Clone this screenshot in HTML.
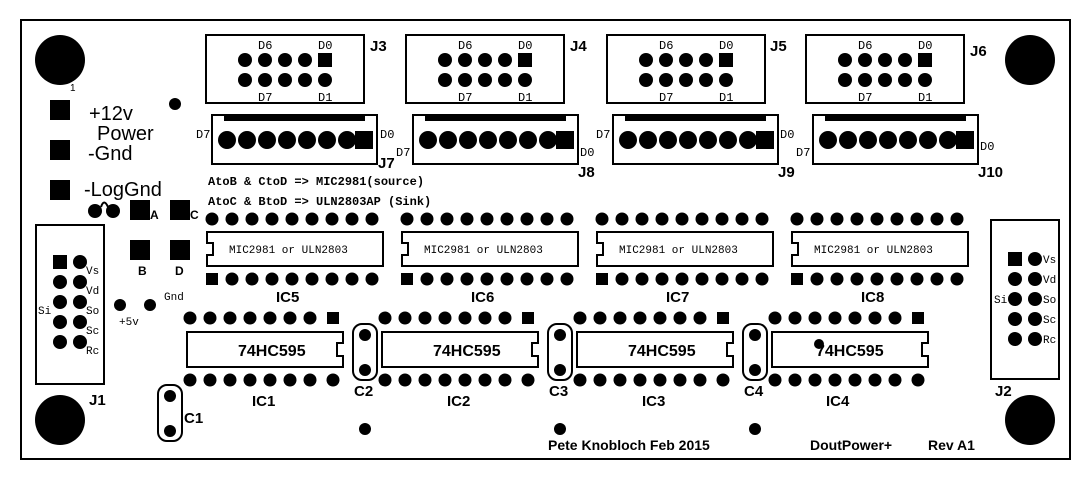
<!DOCTYPE html>
<html><head><meta charset="utf-8"><style>
html,body{margin:0;padding:0;background:#fff;}
svg{display:block;}
text{font-family:"Liberation Sans",sans-serif;fill:#000;}
.m text,text.m{font-family:"Liberation Mono",monospace;font-size:12px;}
.b text,text.b{font-weight:bold;font-size:15px;}
.s text,text.s{font-size:11px;font-family:"Liberation Mono",monospace;}
</style></head><body>
<svg width="1090" height="480" viewBox="0 0 1090 480" xmlns="http://www.w3.org/2000/svg">
<defs>
<g id="jh">
<rect x="0" y="0" width="158" height="68" fill="none" stroke="#000" stroke-width="2"/>
<circle cx="39" cy="25" r="7"/><circle cx="59" cy="25" r="7"/><circle cx="79" cy="25" r="7"/><circle cx="99" cy="25" r="7"/>
<rect x="112" y="18" width="14" height="14"/>
<circle cx="39" cy="45" r="7"/><circle cx="59" cy="45" r="7"/><circle cx="79" cy="45" r="7"/><circle cx="99" cy="45" r="7"/><circle cx="119" cy="45" r="7"/>
</g>
<g id="jc">
<rect x="0" y="0" width="165" height="49" fill="none" stroke="#000" stroke-width="2"/>
<rect x="12" y="0" width="141" height="6"/>
<circle cx="15" cy="25" r="9"/><circle cx="35" cy="25" r="9"/><circle cx="55" cy="25" r="9"/><circle cx="75" cy="25" r="9"/><circle cx="95" cy="25" r="9"/><circle cx="115" cy="25" r="9"/><circle cx="135" cy="25" r="9"/>
<rect x="143" y="16" width="18" height="18"/>
</g>
<g id="uln">
<circle cx="5" cy="-13" r="6.5"/><circle cx="25" cy="-13" r="6.5"/><circle cx="45" cy="-13" r="6.5"/><circle cx="65" cy="-13" r="6.5"/><circle cx="85" cy="-13" r="6.5"/><circle cx="105" cy="-13" r="6.5"/><circle cx="125" cy="-13" r="6.5"/><circle cx="145" cy="-13" r="6.5"/><circle cx="165" cy="-13" r="6.5"/>
<path d="M0,0 H176 V34 H0 V23 H6 V11 H0 Z" fill="none" stroke="#000" stroke-width="2"/>
<rect x="-1" y="41" width="12" height="12"/><circle cx="25" cy="47" r="6.5"/><circle cx="45" cy="47" r="6.5"/><circle cx="65" cy="47" r="6.5"/><circle cx="85" cy="47" r="6.5"/><circle cx="105" cy="47" r="6.5"/><circle cx="125" cy="47" r="6.5"/><circle cx="145" cy="47" r="6.5"/><circle cx="165" cy="47" r="6.5"/>
</g>
<g id="hc">
<circle cx="3" cy="-14" r="6.5"/><circle cx="23" cy="-14" r="6.5"/><circle cx="43" cy="-14" r="6.5"/><circle cx="63" cy="-14" r="6.5"/><circle cx="83" cy="-14" r="6.5"/><circle cx="103" cy="-14" r="6.5"/><circle cx="123" cy="-14" r="6.5"/>
<rect x="140" y="-20" width="12" height="12"/>
<path d="M0,0 H156 V11 H150 V24 H156 V35 H0 Z" fill="none" stroke="#000" stroke-width="2"/>
<circle cx="3" cy="48" r="6.5"/><circle cx="23" cy="48" r="6.5"/><circle cx="43" cy="48" r="6.5"/><circle cx="63" cy="48" r="6.5"/><circle cx="83" cy="48" r="6.5"/><circle cx="103" cy="48" r="6.5"/><circle cx="123" cy="48" r="6.5"/><circle cx="146" cy="48" r="6.5"/>
</g>
<g id="cap">
<rect x="0" y="0" width="24" height="56" rx="9" fill="none" stroke="#000" stroke-width="2"/>
<circle cx="12" cy="11" r="6"/><circle cx="12" cy="46" r="6"/>
</g>
</defs>

<rect x="21" y="20" width="1049" height="439" fill="none" stroke="#000" stroke-width="2"/>
<circle cx="60" cy="60" r="25"/><circle cx="1030" cy="60" r="25"/><circle cx="60" cy="420" r="25"/><circle cx="1030" cy="420" r="25"/>

<use href="#jh" x="206" y="35"/><use href="#jh" x="406" y="35"/><use href="#jh" x="607" y="35"/><use href="#jh" x="806" y="35"/>
<g class="m">
<text x="258" y="49">D6</text><text x="318" y="49">D0</text><text x="258" y="101">D7</text><text x="318" y="101">D1</text>
<text x="458" y="49">D6</text><text x="518" y="49">D0</text><text x="458" y="101">D7</text><text x="518" y="101">D1</text>
<text x="659" y="49">D6</text><text x="719" y="49">D0</text><text x="659" y="101">D7</text><text x="719" y="101">D1</text>
<text x="858" y="49">D6</text><text x="918" y="49">D0</text><text x="858" y="101">D7</text><text x="918" y="101">D1</text>
</g>
<g class="b"><text x="370" y="51">J3</text><text x="570" y="51">J4</text><text x="770" y="51">J5</text><text x="970" y="56">J6</text></g>

<use href="#jc" x="212" y="115"/><use href="#jc" x="413" y="115"/><use href="#jc" x="613" y="115"/><use href="#jc" x="813" y="115"/>
<g class="m">
<text x="196" y="138">D7</text><text x="380" y="138">D0</text>
<text x="396" y="156">D7</text><text x="580" y="156">D0</text>
<text x="596" y="138">D7</text><text x="780" y="138">D0</text>
<text x="796" y="156">D7</text><text x="980" y="150">D0</text>
</g>
<g class="b"><text x="378" y="168">J7</text><text x="578" y="177">J8</text><text x="778" y="177">J9</text><text x="978" y="177">J10</text></g>

<text x="208" y="185" style="font-size:12px;font-weight:bold;font-family:'Liberation Mono',monospace">AtoB &amp; CtoD =&gt; MIC2981(source)</text>
<text x="208" y="205" style="font-size:12px;font-weight:bold;font-family:'Liberation Mono',monospace">AtoC &amp; BtoD =&gt; ULN2803AP (Sink)</text>

<use href="#uln" x="207" y="232"/><use href="#uln" x="402" y="232"/><use href="#uln" x="597" y="232"/><use href="#uln" x="792" y="232"/>
<g class="s">
<text x="229" y="253">MIC2981 or ULN2803</text><text x="424" y="253">MIC2981 or ULN2803</text><text x="619" y="253">MIC2981 or ULN2803</text><text x="814" y="253">MIC2981 or ULN2803</text>
</g>
<g class="b"><text x="276" y="302">IC5</text><text x="471" y="302">IC6</text><text x="666" y="302">IC7</text><text x="861" y="302">IC8</text></g>

<use href="#hc" x="187" y="332"/><use href="#hc" x="382" y="332"/><use href="#hc" x="577" y="332"/><use href="#hc" x="772" y="332"/>
<g style="font-size:16px;font-weight:bold">
<text x="238" y="356">74HC595</text><text x="433" y="356">74HC595</text><text x="628" y="356">74HC595</text><text x="816" y="356">74HC595</text>
</g>
<circle cx="819" cy="344" r="5"/>
<g class="b"><text x="252" y="406">IC1</text><text x="447" y="406">IC2</text><text x="642" y="406">IC3</text><text x="826" y="406">IC4</text></g>

<use href="#cap" x="353" y="324"/><use href="#cap" x="548" y="324"/><use href="#cap" x="743" y="324"/>
<use href="#cap" x="158" y="385"/>
<g class="b"><text x="354" y="396">C2</text><text x="549" y="396">C3</text><text x="744" y="396">C4</text><text x="184" y="423">C1</text></g>
<circle cx="365" cy="429" r="6"/><circle cx="560" cy="429" r="6"/><circle cx="755" cy="429" r="6"/>

<g style="font-size:14px;font-weight:bold">
<text x="548" y="450">Pete Knobloch Feb 2015</text><text x="810" y="450">DoutPower+</text><text x="928" y="450">Rev A1</text>
</g>

<text x="70" y="91" style="font-size:10px">1</text>
<rect x="50" y="100" width="20" height="20"/><rect x="50" y="140" width="20" height="20"/><rect x="50" y="180" width="20" height="20"/>
<circle cx="175" cy="104" r="6"/>
<g style="font-size:20px">
<text x="89" y="120">+12v</text><text x="97" y="140">Power</text><text x="88" y="160">-Gnd</text><text x="84" y="196">-LogGnd</text>
</g>
<circle cx="95" cy="211" r="7"/><circle cx="113" cy="211" r="7"/>
<path d="M101,207 Q104,198 108,207" fill="none" stroke="#000" stroke-width="2"/>
<rect x="130" y="200" width="20" height="20"/><rect x="170" y="200" width="20" height="20"/>
<rect x="130" y="240" width="20" height="20"/><rect x="170" y="240" width="20" height="20"/>
<g style="font-size:12px;font-weight:bold"><text x="150" y="219">A</text><text x="190" y="219">C</text><text x="138" y="275">B</text><text x="175" y="275">D</text></g>
<circle cx="120" cy="305" r="6"/><circle cx="150" cy="305" r="6"/>
<text x="164" y="300" class="s">Gnd</text><text x="119" y="325" class="s">+5v</text>

<rect x="36" y="225" width="68" height="159" fill="none" stroke="#000" stroke-width="2"/>
<rect x="53" y="255" width="14" height="14"/><circle cx="80" cy="262" r="7"/>
<circle cx="60" cy="282" r="7"/><circle cx="80" cy="282" r="7"/>
<circle cx="60" cy="302" r="7"/><circle cx="80" cy="302" r="7"/>
<circle cx="60" cy="322" r="7"/><circle cx="80" cy="322" r="7"/>
<circle cx="60" cy="342" r="7"/><circle cx="80" cy="342" r="7"/>
<g class="s"><text x="86" y="274">Vs</text><text x="86" y="294">Vd</text><text x="86" y="314">So</text><text x="86" y="334">Sc</text><text x="86" y="354">Rc</text><text x="38" y="314">Si</text></g>
<text x="89" y="405" class="b">J1</text>

<rect x="991" y="220" width="68" height="159" fill="none" stroke="#000" stroke-width="2"/>
<rect x="1008" y="252" width="14" height="14"/><circle cx="1035" cy="259" r="7"/>
<circle cx="1015" cy="279" r="7"/><circle cx="1035" cy="279" r="7"/>
<circle cx="1015" cy="299" r="7"/><circle cx="1035" cy="299" r="7"/>
<circle cx="1015" cy="319" r="7"/><circle cx="1035" cy="319" r="7"/>
<circle cx="1015" cy="339" r="7"/><circle cx="1035" cy="339" r="7"/>
<g class="s"><text x="1043" y="263">Vs</text><text x="1043" y="283">Vd</text><text x="1043" y="303">So</text><text x="1043" y="323">Sc</text><text x="1043" y="343">Rc</text><text x="994" y="303">Si</text></g>
<text x="995" y="396" class="b">J2</text>
</svg>
</body></html>
